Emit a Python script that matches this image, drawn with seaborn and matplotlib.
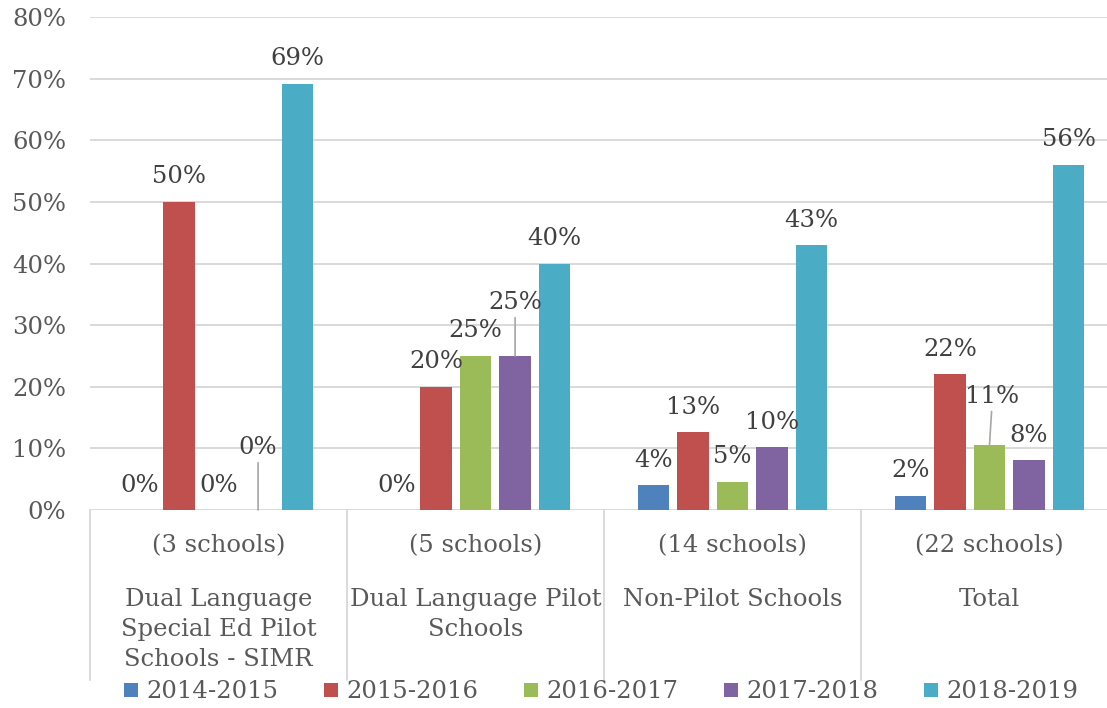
import numpy as np
import pandas as pd
import matplotlib
matplotlib.use("Agg")
import matplotlib.pyplot as plt
from matplotlib.lines import Line2D
import seaborn as sns

# ---- data ----
categories = ["Dual Language\nSpecial Ed Pilot\nSchools - SIMR",
              "Dual Language Pilot\nSchools",
              "Non-Pilot Schools",
              "Total"]
school_counts = ["(3 schools)", "(5 schools)", "(14 schools)", "(22 schools)"]
years = ["2014-2015", "2015-2016", "2016-2017", "2017-2018", "2018-2019"]
v_2014_2015 = [0, 0, 4.0, 2.3]
v_2015_2016 = [50, 20, 12.6, 22]
v_2016_2017 = [0, 25, 4.6, 10.6]
v_2017_2018 = [0, 25, 10.2, 8.1]
v_2018_2019 = [69.2, 40, 43, 56]
colors = ["#4F81BD", "#C0504D", "#9BBB59", "#8064A2", "#4BACC6"]

series = [v_2014_2015, v_2015_2016, v_2016_2017, v_2017_2018, v_2018_2019]
rows = []
for y, vals in zip(years, series):
    for c, v in zip(categories, vals):
        rows.append({"category": c, "year": y, "value": v})
df = pd.DataFrame(rows)

sns.set_style("white")
plt.rcParams["font.family"] = ["DejaVu Serif"]

TICK_C = "#595959"
LABEL_C = "#404040"
GRID_C = "#d9d9d9"
FS = 17.5

fig = plt.figure(figsize=(11.07, 7.08), dpi=100)
ax = fig.add_axes([90 / 1107, 198 / 708, 1028 / 1107, 493 / 708])

sns.barplot(data=df, x="category", y="value", hue="year", order=categories,
            hue_order=years, palette=colors, saturation=1, width=0.77, gap=0.2,
            linewidth=0, legend=False, ax=ax, errorbar=None)

ax.set_xlim(-0.5, 3.5)
ax.set_ylim(0, 80)
ax.set_yticks(np.arange(0, 81, 10))
ax.set_yticklabels([f"{t}%" for t in range(0, 81, 10)], fontsize=FS, color=TICK_C)
ax.tick_params(axis="y", length=0, pad=17)
ax.tick_params(axis="x", length=0)
ax.set_xticks(range(len(categories)))
ax.set_xticklabels([""] * len(categories))
ax.set_xlabel("")
ax.set_ylabel("")
ax.yaxis.grid(True, color=GRID_C, linewidth=1.4)
ax.set_axisbelow(True)
for s in ax.spines.values():
    s.set_visible(False)

# category labels (two levels)
xt = ax.get_xaxis_transform()
for i, (cat, cnt) in enumerate(zip(categories, school_counts)):
    ax.text(i, -0.073, cnt, transform=xt, ha="center", va="center",
            fontsize=FS, color=TICK_C)
    ax.text(i, -0.158, cat, transform=xt, ha="center", va="top",
            multialignment="center", fontsize=FS, color=TICK_C, linespacing=1.38)

# separators
for xb in np.arange(-0.5, len(categories), 1.0):
    ax.plot([xb, xb], [0, -0.345], transform=xt, color=GRID_C, lw=1.4,
            clip_on=False)

# data labels
special = {(0, 3): (0, 62), (1, 3): (0, 53), (3, 2): (3, 48)}
for hi, cont in enumerate(ax.containers):
    for bar in cont:
        xc = bar.get_x() + bar.get_width() / 2
        h = bar.get_height()
        ci = int(round(xc))
        txt = f"{int(np.floor(h + 0.5))}%"
        off = special.get((ci, hi), (0, 25))
        kw = {}
        if (ci, hi) in special:
            kw["arrowprops"] = dict(arrowstyle="-", color="#a6a6a6", lw=1.2,
                                    shrinkA=0, shrinkB=0)
        ax.annotate(txt, xy=(xc, h), xytext=off, textcoords="offset pixels",
                    ha="center", va="center", fontsize=FS, color=LABEL_C,
                    annotation_clip=False, **kw)

# legend
handles = [Line2D([0], [0], marker="s", linestyle="", markersize=10,
                  markerfacecolor=c, markeredgewidth=0) for c in colors]
fig.legend(handles, years, loc="center", bbox_to_anchor=(0.543, 16 / 708),
           ncol=5, frameon=False, fontsize=FS, handlelength=0.6,
           handletextpad=0.35, columnspacing=1.85, labelcolor=TICK_C)

fig.savefig("out.png", dpi=100)
